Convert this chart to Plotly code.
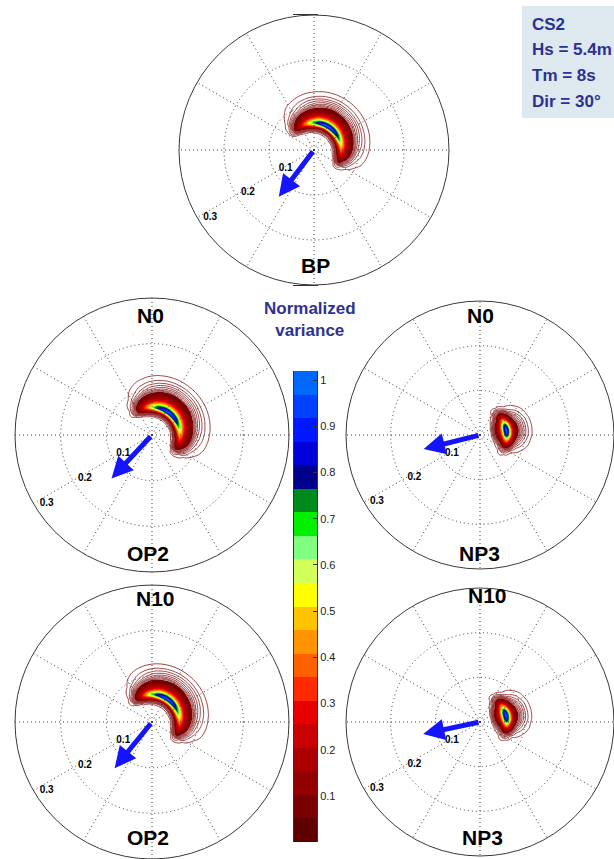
import numpy as np
import plotly.graph_objects as go

W, H = 614, 859
FONT = "Liberation Sans, Arial, sans-serif"

# ---------------- data ----------------
# radial coordinate (frequency-like) grid and relative direction grid (deg)
R_GRID = [0.020, 0.025, 0.030, 0.035, 0.040, 0.045, 0.050, 0.055, 0.060, 0.065,
          0.070, 0.075, 0.080, 0.085, 0.090, 0.095, 0.100, 0.105, 0.110, 0.115,
          0.120, 0.125, 0.130, 0.135, 0.140, 0.145, 0.150]
DELTA_GRID = [-120, -110, -100, -90, -80, -70, -60, -50, -40, -30, -20, -10, 0,
              10, 20, 30, 40, 50, 60, 70, 80, 90, 100, 110, 120]

TITLE_TOP = ["", "N0", "N0", "N10", "N10"]
TITLE_BOTTOM = ["BP", "OP2", "NP3", "OP2", "NP3"]

# peak direction of the normalized variance (deg, counter-clockwise from east)
PEAK_DIR = [58, 54, 10, 56, 14]

# radial (frequency) profiles of normalized variance
FREQ_BP = [0, 0, 0, 0.001, 0.008, 0.04, 0.20, 0.62, 0.98, 0.80, 0.50, 0.33, 0.22,
           0.14, 0.09, 0.06, 0.045, 0.035, 0.026, 0.018, 0.012, 0.008, 0.005,
           0.003, 0.001, 0, 0]
FREQ_N0_OP2 = [0, 0, 0, 0.001, 0.006, 0.03, 0.17, 0.58, 0.97, 0.84, 0.55, 0.37,
               0.25, 0.16, 0.10, 0.066, 0.048, 0.037, 0.028, 0.020, 0.014, 0.009,
               0.006, 0.003, 0.001, 0, 0]
FREQ_N0_NP3 = [0, 0.003, 0.02, 0.07, 0.14, 0.25, 0.45, 0.80, 0.98, 0.76, 0.42,
               0.22, 0.10, 0.06, 0.042, 0.030, 0.021, 0.014, 0.009, 0.005, 0.003,
               0.001, 0, 0, 0, 0, 0]
FREQ_N10_OP2 = [0, 0, 0, 0.001, 0.008, 0.04, 0.21, 0.64, 0.98, 0.78, 0.48, 0.31,
                0.20, 0.13, 0.085, 0.056, 0.042, 0.032, 0.024, 0.017, 0.011, 0.007,
                0.004, 0.002, 0.001, 0, 0]
FREQ_N10_NP3 = [0, 0.003, 0.02, 0.07, 0.14, 0.25, 0.45, 0.80, 0.98, 0.76, 0.42,
                0.22, 0.10, 0.06, 0.042, 0.030, 0.021, 0.014, 0.009, 0.005, 0.003,
                0.001, 0, 0, 0, 0, 0]

# directional spreading profiles (on DELTA_GRID)
DIR_BP = [0, 0, 0.002, 0.02, 0.10, 0.24, 0.38, 0.52, 0.66, 0.80, 0.91, 0.97, 1.0,
          0.98, 0.91, 0.77, 0.60, 0.42, 0.26, 0.12, 0.03, 0.004, 0, 0, 0]
DIR_N0_OP2 = [0, 0, 0.002, 0.022, 0.11, 0.25, 0.39, 0.53, 0.67, 0.81, 0.92, 0.98,
              1.0, 0.97, 0.88, 0.73, 0.55, 0.35, 0.17, 0.05, 0.008, 0, 0, 0, 0]
DIR_N0_NP3 = [0, 0, 0, 0, 0, 0, 0.001, 0.008, 0.04, 0.18, 0.50, 0.88, 1.0, 0.88,
              0.52, 0.20, 0.05, 0.008, 0.001, 0, 0, 0, 0, 0, 0]
DIR_N10_OP2 = [0, 0, 0.002, 0.02, 0.10, 0.24, 0.38, 0.52, 0.66, 0.80, 0.91, 0.98,
               1.0, 0.97, 0.89, 0.75, 0.57, 0.38, 0.19, 0.06, 0.01, 0, 0, 0, 0]
DIR_N10_NP3 = [0, 0, 0, 0, 0, 0, 0.001, 0.008, 0.04, 0.18, 0.50, 0.88, 1.0, 0.88,
               0.52, 0.20, 0.05, 0.008, 0.001, 0, 0, 0, 0, 0, 0]

FREQ_PROFILES = [FREQ_BP, FREQ_N0_OP2, FREQ_N0_NP3, FREQ_N10_OP2, FREQ_N10_NP3]
DIR_PROFILES = [DIR_BP, DIR_N0_OP2, DIR_N0_NP3, DIR_N10_OP2, DIR_N10_NP3]

# mean direction arrows (deg) and lengths (radial units)
ARROW_DIR = [233, 227, 194, 231, 192]
ARROW_LEN = [0.13, 0.13, 0.13, 0.13, 0.13]

RADIAL_TICKS = [0.1, 0.2, 0.3]
CBAR_TICKS = [0.1, 0.2, 0.3, 0.4, 0.5, 0.6, 0.7, 0.8, 0.9, 1.0]
CBAR_TICKTEXT = ["0.1", "0.2", "0.3", "0.4", "0.5", "0.6", "0.7", "0.8", "0.9", "1"]
CBAR_MAX = 1.02
BAND_COLORS = ["#5e0000", "#780000", "#930000", "#ac0000", "#c80000", "#e60000",
               "#ff2a00", "#ff6000", "#ff9400", "#ffc400", "#ffff00", "#d2ff5a",
               "#80ff80", "#00f000", "#008a1e", "#00008c", "#0000d8", "#0018ff",
               "#0040ff", "#0068ff"]
FILL_LEVELS = dict(start=0.05, end=1.0, size=0.05)
LINE_LEVELS = dict(start=0.004, end=0.046, size=0.006)

INFO_LINES = ["CS2", "Hs = 5.4m", "Tm = 8s", "Dir = 30°"]

# ---------------- layout geometry (pixels) ----------------
GEOM = [(314, 150, 135), (152, 435, 137), (480, 435, 134), (152, 722, 137), (480, 722, 134)]
TOP_POS = [None, (150, 315), (480, 315), (155, 598), (487, 595)]
BOT_POS = [(315, 266), (148, 553), (479, 553), (148, 837), (482, 837)]
LABEL_ANGLE = 213
LABEL_INSET = 0.025
NAVY = "#2e3192"
ARROW_COLOR = "#1414ff"
LINE_COLOR = "#963434"
GRID_COLOR = "#3c3c3c"
GRID_DASH = "1px,3px"


def px2x(px):
    return min(max(px / W, 0.0), 1.0)


def px2y(py):
    return min(max(1 - py / H, 0.0), 1.0)


# fill colorscale: below first level transparent, each band its colour
T = "rgba(255,255,255,0)"
fill_cs = [[0.0, T], [0.025, T]]
for k in range(1, 20):
    lo = round(0.05 * k - 0.025, 4)
    hi = round(0.05 * k + 0.025, 4)
    fill_cs += [[lo, BAND_COLORS[k]], [hi, BAND_COLORS[k]]]
fill_cs.append([1.0, BAND_COLORS[19]])

fig = go.Figure()
layout = dict(width=W, height=H, margin=dict(l=0, r=0, t=0, b=0),
              paper_bgcolor="white", plot_bgcolor="white", showlegend=False)
annotations = []

for i in range(5):
    k = i + 1
    cx, cy, R = GEOM[i]
    xd = [px2x(cx - R), px2x(cx + R)]
    yd = [px2y(cy + R), px2y(cy - R)]
    pkey = "polar" if k == 1 else f"polar{k}"
    xkey = "xaxis" if k == 1 else f"xaxis{k}"
    ykey = "yaxis" if k == 1 else f"yaxis{k}"
    xref = "x" if k == 1 else f"x{k}"
    yref = "y" if k == 1 else f"y{k}"

    layout[xkey] = dict(domain=xd, range=[-0.3, 0.3], visible=False, fixedrange=True)
    layout[ykey] = dict(domain=yd, range=[-0.3, 0.3], visible=False, fixedrange=True)
    layout[pkey] = dict(
        domain=dict(x=xd, y=yd),
        bgcolor="rgba(0,0,0,0)",
        angularaxis=dict(showline=True, linecolor="#3a3a3a", linewidth=1,
                         showgrid=True, gridcolor=GRID_COLOR, griddash=GRID_DASH, gridwidth=1,
                         tickmode="linear", tick0=0, dtick=30, ticks="",
                         showticklabels=False, direction="counterclockwise", rotation=0),
        radialaxis=dict(range=[0, 0.3], showline=False, showticklabels=False, ticks="",
                        tickvals=RADIAL_TICKS[:-1], showgrid=True, gridcolor=GRID_COLOR,
                        griddash=GRID_DASH, gridwidth=1),
    )

    theta = [PEAK_DIR[i] + d for d in DELTA_GRID]
    th = np.radians(theta)
    rr = np.array(R_GRID)
    X = (np.cos(th)[:, None] * rr[None, :]).tolist()
    Y = (np.sin(th)[:, None] * rr[None, :]).tolist()
    Z = (np.array(DIR_PROFILES[i])[:, None] * np.array(FREQ_PROFILES[i])[None, :]).tolist()
    cid = f"c{k}"
    hidden_ax = dict(showgrid=False, showline=False, showticklabels="none",
                     startline=False, endline=False, minorgridcount=0,
                     gridcolor="rgba(0,0,0,0)", linecolor="rgba(0,0,0,0)",
                     gridwidth=0, linewidth=0)
    fig.add_trace(go.Carpet(a=R_GRID, b=theta, x=X, y=Y, carpet=cid,
                            aaxis=hidden_ax, baxis=hidden_ax, color="rgba(0,0,0,0)",
                            xaxis=xref, yaxis=yref))
    fig.add_trace(go.Contourcarpet(a=R_GRID, b=theta, z=Z, carpet=cid,
                                   autocontour=False,
                                   contours=dict(coloring="fill", showlines=False, **FILL_LEVELS),
                                   colorscale=fill_cs, showscale=False,
                                   line=dict(width=0), xaxis=xref, yaxis=yref))
    fig.add_trace(go.Contourcarpet(a=R_GRID, b=theta, z=Z, carpet=cid,
                                   autocontour=False,
                                   contours=dict(coloring="none", **LINE_LEVELS),
                                   showscale=False,
                                   line=dict(width=0.9, color=LINE_COLOR),
                                   xaxis=xref, yaxis=yref))
    # radial tick labels
    fig.add_trace(go.Scatterpolar(
        subplot=pkey, r=[t - LABEL_INSET for t in RADIAL_TICKS],
        theta=[LABEL_ANGLE] * len(RADIAL_TICKS), mode="text",
        text=[f"{t:g}" for t in RADIAL_TICKS],
        textfont=dict(family=FONT, size=10, color="black", weight="bold"),
        hoverinfo="skip"))
    # mean direction arrow
    a = np.radians(ARROW_DIR[i])
    annotations.append(dict(
        x=ARROW_LEN[i] * np.cos(a), y=ARROW_LEN[i] * np.sin(a),
        ax=0, ay=0, xref=xref, yref=yref, axref=xref, ayref=yref,
        text="", showarrow=True, arrowhead=2, arrowsize=0.85, arrowwidth=5,
        arrowcolor=ARROW_COLOR, standoff=0, startstandoff=0))
    # titles
    if TITLE_TOP[i]:
        tx, ty = TOP_POS[i]
        annotations.append(dict(x=px2x(tx), y=px2y(ty), xref="paper", yref="paper",
                                text=f"<b>{TITLE_TOP[i]}</b>", showarrow=False,
                                font=dict(family=FONT, size=21, color="black"),
                                xanchor="center", yanchor="middle"))
    bx, by = BOT_POS[i]
    annotations.append(dict(x=px2x(bx), y=px2y(by), xref="paper", yref="paper",
                            text=f"<b>{TITLE_BOTTOM[i]}</b>", showarrow=False,
                            font=dict(family=FONT, size=21, color="black"),
                            xanchor="center", yanchor="middle"))

# ---------------- colorbar (as its own axis) ----------------
nb = len(BAND_COLORS)
cb_cs = []
for k, c in enumerate(BAND_COLORS):
    cb_cs += [[k / nb, c], [(k + 1) / nb, c]]
fig.add_trace(go.Heatmap(
    z=[[k] for k in range(nb)], x=[0],
    y=[(k + 0.5) * CBAR_MAX / nb for k in range(nb)],
    colorscale=cb_cs, zmin=-0.5, zmax=nb - 0.5, showscale=False,
    xaxis="x6", yaxis="y6", hoverinfo="skip"))
layout["xaxis6"] = dict(domain=[px2x(294), px2x(317)], range=[-0.5, 0.5],
                        showticklabels=False, ticks="", showline=True, mirror=True,
                        linecolor="#333333", linewidth=1, zeroline=False, showgrid=False,
                        fixedrange=True)
layout["yaxis6"] = dict(domain=[px2y(842), px2y(371)], range=[0, CBAR_MAX], side="right",
                        anchor="x6", tickvals=CBAR_TICKS, ticktext=CBAR_TICKTEXT,
                        ticks="inside", ticklen=4, tickcolor="#333333",
                        tickfont=dict(family=FONT, size=11, color="#222222"),
                        showline=True, mirror=True, linecolor="#333333", linewidth=1,
                        zeroline=False, showgrid=False, fixedrange=True)

annotations.append(dict(x=px2x(310), y=px2y(319), xref="paper", yref="paper",
                        text="<b>Normalized<br>variance</b>", showarrow=False,
                        font=dict(family=FONT, size=17, color=NAVY),
                        xanchor="center", yanchor="middle"))

# ---------------- info box ----------------
layout["shapes"] = [dict(type="rect", xref="paper", yref="paper",
                         x0=px2x(522), x1=1.0, y0=px2y(118), y1=px2y(6),
                         fillcolor="#dde9ee", line=dict(width=0), layer="below")]
INFO_Y = [25, 50, 76, 102]
for txt, ypx in zip(INFO_LINES, INFO_Y):
    annotations.append(dict(x=px2x(530), y=px2y(ypx), xref="paper", yref="paper",
                            text=f"<b>{txt}</b>", showarrow=False,
                            font=dict(family=FONT, size=17, color=NAVY),
                            xanchor="left", yanchor="middle"))

layout["annotations"] = annotations
fig.update_layout(**layout)
fig.write_html("out.html")
